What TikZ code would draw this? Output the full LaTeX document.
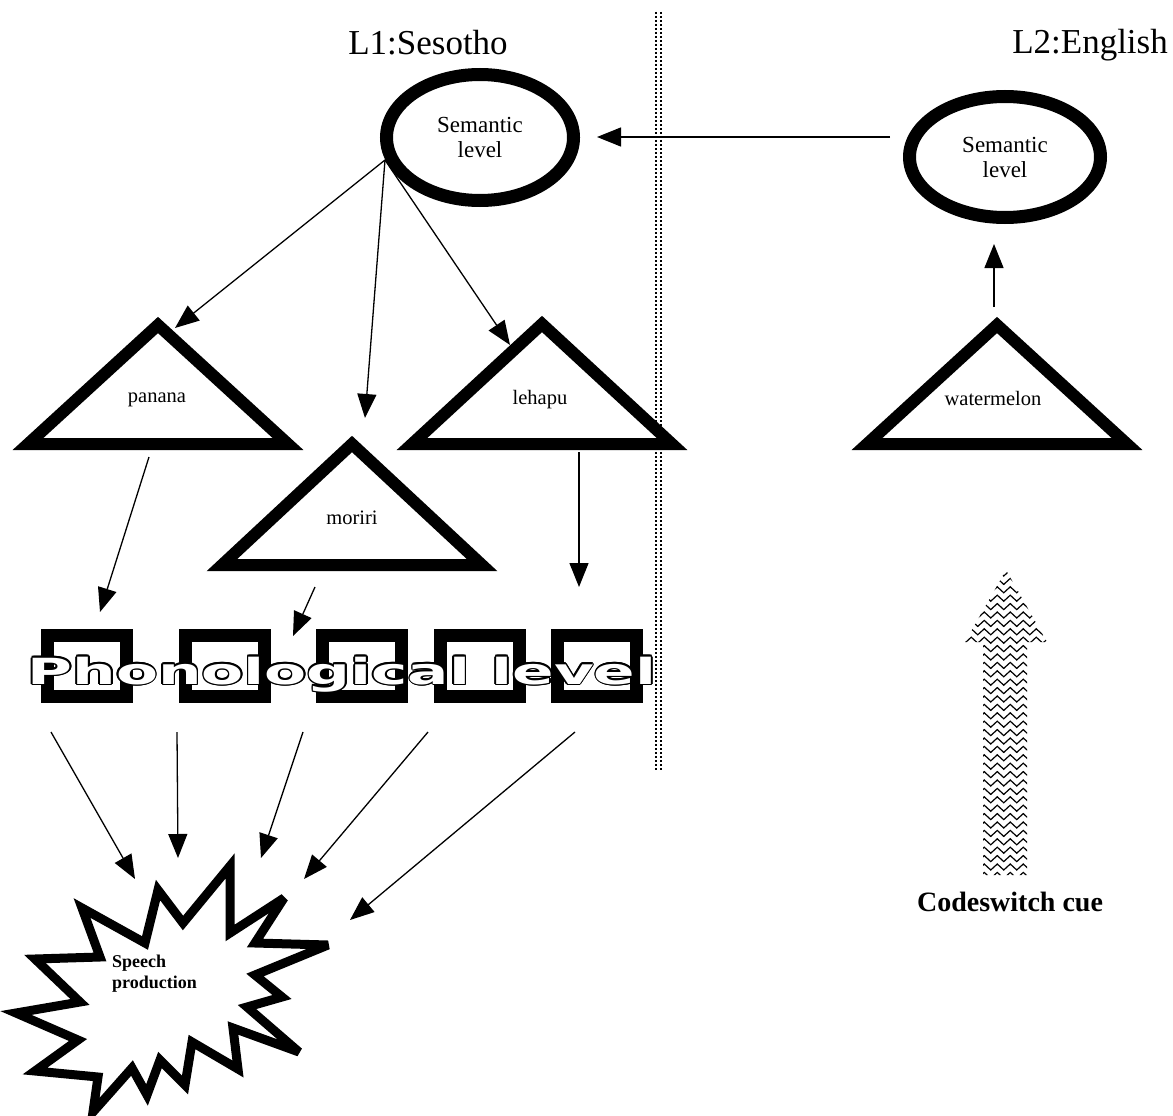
\documentclass[tikz,border=0pt]{standalone}
\usepackage{fontspec}
\setmainfont{Liberation Serif}
\newfontfamily\phfont{DejaVu Sans}
\usetikzlibrary{arrows.meta,shapes.geometric,decorations.pathmorphing}

\newcommand\phword{\scalebox{1.7}[1]{Phonological level}}

\begin{document}
\begin{tikzpicture}[x=1pt,y=-1pt,
  conn/.style={line width=1.3pt,-{Triangle[length=24pt,width=19pt]}},
  oval/.style={draw,ellipse,line width=13pt,fill=white,inner sep=0pt,
    align=center,font=\fontsize{23}{25}\selectfont},
  tri/.style={draw,line width=12pt,line join=miter,fill=white},
  trilabel/.style={font=\fontsize{20.5}{24}\selectfont},
  phsq/.style={draw,line width=13pt,minimum width=79pt,minimum height=61pt,inner sep=0pt},
  phtext/.style={anchor=base,inner sep=0pt,font=\phfont\bfseries\fontsize{36}{36}\selectfont},
  dots/.style={line width=1.7pt,dash pattern=on 1.7pt off 2.3pt},
  burst/.style={draw,line width=9pt,line join=miter,miter limit=4,fill=white},
  wave/.style={line width=1.2pt,decorate,decoration={zigzag,segment length=13pt,amplitude=3pt}},
  title/.style={font=\fontsize{35}{35}\selectfont,inner sep=0pt}]

\useasboundingbox (0,0) rectangle (1173,1116);

% divider between the two languages
\draw[dots] (656,12) -- (656,770);
\draw[dots] (661,12) -- (661,770);

% headings
\node[title,anchor=base] (l1) at (428,55) {L1:Sesotho};
\node[title,anchor=base east] (l2) at (1168,54) {L2:English};

% connector end points
\coordinate (semLsrc) at (385,160);
\coordinate (panIn) at (175,328);
\coordinate (morIn) at (365,418);
\coordinate (lehIn) at (510,345);
\coordinate (panOut) at (149,457);
\coordinate (phA) at (100,612);
\coordinate (morOut) at (315,587);
\coordinate (phB) at (293,636);
\coordinate (lehOut) at (579,452);
\coordinate (phE) at (579,587);
\coordinate (semEsrc) at (890,137);
\coordinate (semLin) at (597,137);
\coordinate (watOut) at (994,307);
\coordinate (semEin) at (994,244);
\coordinate (ph1) at (51,732);
\coordinate (ph2) at (177,732);
\coordinate (ph3) at (303,732);
\coordinate (ph4) at (428,732);
\coordinate (ph5) at (575,732);
\coordinate (sp1) at (135,879);
\coordinate (sp2) at (178,858);
\coordinate (sp3) at (261,858);
\coordinate (sp4) at (304,879);
\coordinate (sp5) at (350,920);

% connectors
\draw[conn] (semLsrc) -- (panIn);
\draw[conn] (semLsrc) -- (morIn);
\draw[conn] (semLsrc) -- (lehIn);
\draw[conn] (panOut) -- (phA);
\draw[conn] (morOut) -- (phB);
\draw[conn] (lehOut) -- (phE);
\draw[conn] (semEsrc) -- (semLin);
\draw[conn] (watOut) -- (semEin);
\draw[conn] (ph1) -- (sp1);
\draw[conn] (ph2) -- (sp2);
\draw[conn] (ph3) -- (sp3);
\draw[conn] (ph4) -- (sp4);
\draw[conn] (ph5) -- (sp5);

% semantic levels
\node[oval,minimum width=187pt,minimum height=126pt] (semL) at (480,137.5) {Semantic\\level};
\node[oval,minimum width=191pt,minimum height=121pt] (semE) at (1005,157) {Semantic\\level};

% lexical entries
\draw[tri] (158,325) -- ++(130,119) -- ++(-260,0) -- cycle;
\node[trilabel] (panana) at (157,400) {panana};
\draw[tri] (352,444) -- ++(130,121) -- ++(-260,0) -- cycle;
\node[trilabel] (moriri) at (352,518) {moriri};
\draw[tri] (542,324) -- ++(130,120) -- ++(-260,0) -- cycle;
\node[trilabel] (lehapu) at (540,400) {lehapu};
\draw[tri] (997,325) -- ++(130,119) -- ++(-260,0) -- cycle;
\node[trilabel] (watermelon) at (993,398) {watermelon};

% phonological level: black halo around white lettering
\foreach \i/\x in {1/87,2/225,3/362,4/480,5/597}
  \node[phsq] (sq\i) at (\x,666) {};
\foreach \a in {0,30,...,330}
  \node[phtext,text=black] at ({342+1.7*cos(\a)},{684+1.7*sin(\a)}) {\phword};
\node[phtext,text=white] (ph) at (342,684) {\phword};

% speech production
\draw[burst] (230,866) -- (230,933) -- (284,898) -- (255,943) -- (328,945)
  -- (255,975) -- (282,997) -- (247,1007) -- (299,1052) -- (233,1028)
  -- (238,1069) -- (192,1042) -- (185,1085) -- (160,1060) -- (147,1095)
  -- (132,1068) -- (93,1112) -- (98,1077) -- (35,1071) -- (78,1040)
  -- (16,1013) -- (80,1002) -- (35,959) -- (100,957) -- (82,908)
  -- (145,943) -- (158,890) -- (183,923) -- cycle;
\node[anchor=north west,inner sep=0pt,align=left,
  font=\bfseries\fontsize{18}{21}\selectfont] (speech) at (112,955) {Speech\\production};

% codeswitch cue arrow
\begin{scope}
  \clip (1006,570) -- (1047,642) -- (1027,642) -- (1027,875) -- (983,875)
    -- (983,642) -- (965,642) -- cycle;
  \foreach \r in {0,...,36}
    \draw[wave] (955,{573+8.4*\r}) -- (1060,{573+8.4*\r});
\end{scope}
\node[anchor=base,inner sep=0pt,font=\bfseries\fontsize{28}{28}\selectfont] (cue) at (1010,911) {Codeswitch cue};

\end{tikzpicture}
\end{document}
